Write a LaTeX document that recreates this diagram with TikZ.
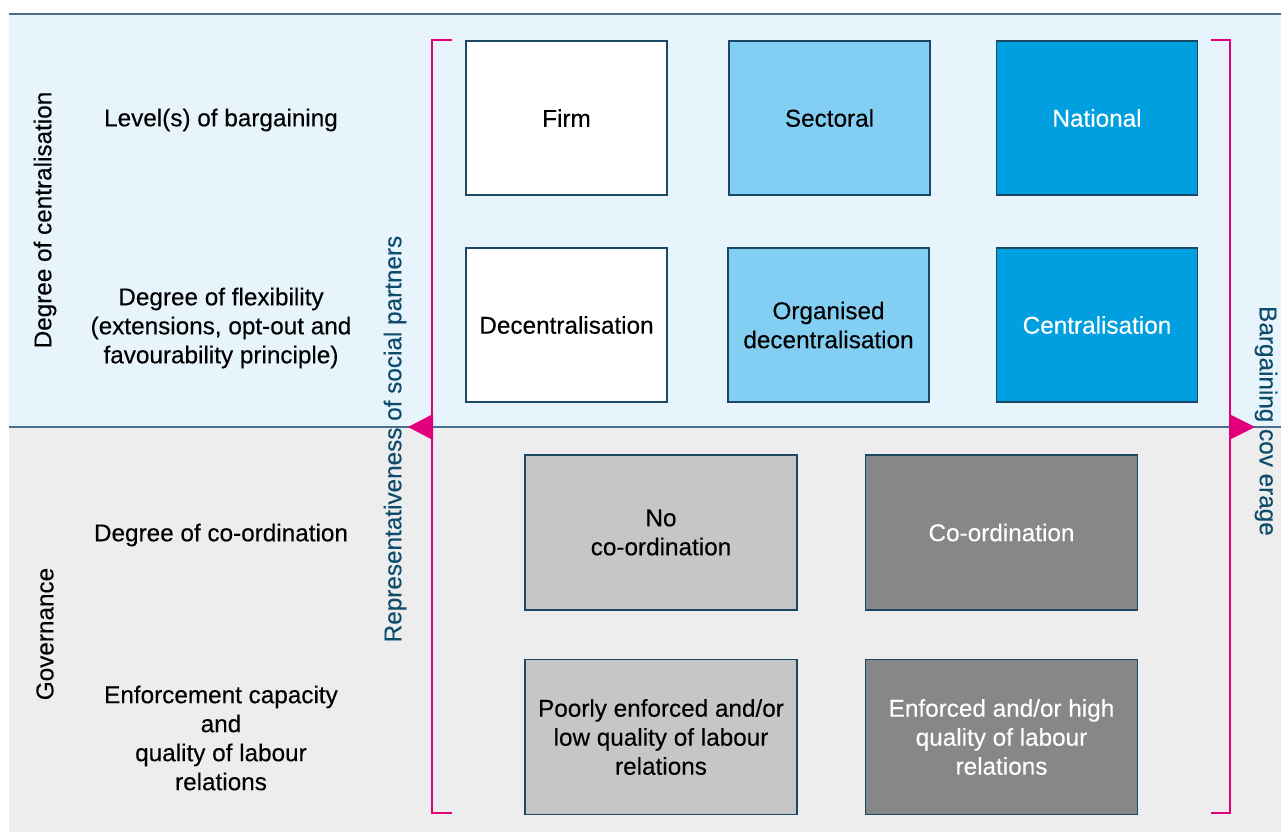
\documentclass[tikz,border=0pt]{standalone}
\usepackage{fontspec}
\setmainfont{Liberation Sans}[FakeBold=0.25]
\definecolor{topbg}{HTML}{E8F4FC}
\definecolor{botbg}{HTML}{EDEDED}
\definecolor{sect}{HTML}{82CFF3}
\definecolor{natl}{HTML}{009FE0}
\definecolor{lgray}{HTML}{C6C6C6}
\definecolor{dgray}{HTML}{878787}
\definecolor{edge}{HTML}{1B4965}
\definecolor{rule}{HTML}{4A6F8C}
\definecolor{pink}{HTML}{E2007A}
\definecolor{teal}{HTML}{0E4C6C}
\tikzset{
  box/.style={draw=edge, line width=1.3pt, minimum width=201pt, minimum height=154pt, inner sep=0pt, align=center, font=\fontsize{24.3}{29}\selectfont},
  wbox/.style={box, minimum width=272pt, minimum height=155pt},
  lab/.style={align=center, font=\fontsize{24.3}{29}\selectfont, inner sep=0pt},
  side/.style={font=\fontsize{24.3}{28}\selectfont, inner sep=0pt},
  brk/.style={draw=pink, line width=2.3pt},
}
\begin{document}
\begin{tikzpicture}[x=1pt,y=-1pt]
\useasboundingbox (0,0) rectangle (1281,832);
\fill[white] (0,0) rectangle (1281,832);
\fill[topbg] (9,14) rectangle (1281,427);
\fill[botbg] (9,427) rectangle (1281,832);
\draw[rule, line width=1.4pt] (9,14) -- (1281,14);
\draw[rule, line width=1.4pt] (9,427) -- (1281,427);

% side labels
\node[side, rotate=90] (cen) at (45,220) {Degree of centralisation};
\node[side, rotate=90] (gov) at (45,634) {Governance};

% row labels
\node[lab] (l1) at (221,120) {Level(s) of bargaining};
\node[lab] (l2) at (221,328) {Degree of flexibility\\(extensions, opt-out and\\favourability principle)};
\node[lab] (l3) at (221,535) {Degree of co-ordination};
\node[lab] (l4) at (221,738) {Enforcement capacity\\and\\quality of labour\\relations};

% boxes
\node[box, fill=white] (firm) at (566.5,118) {Firm};
\node[box, fill=sect] (sec) at (829.5,118) {Sectoral};
\node[box, fill=natl, text=white] (nat) at (1097,118) {National};
\node[box, fill=white] (dec) at (566.5,325) {Decentralisation};
\node[box, fill=sect] (org) at (828.5,325) {Organised\\decentralisation};
\node[box, fill=natl, text=white] (cent) at (1097,325) {Centralisation};
\node[wbox, fill=lgray] (noc) at (661,532.5) {No\\co-ordination};
\node[wbox, fill=dgray, text=white] (coo) at (1001.5,532.5) {Co-ordination};
\node[wbox, fill=lgray] (poor) at (661,737) {Poorly enforced and/or\\low quality of labour\\relations};
\node[wbox, fill=dgray, text=white] (enf) at (1001.5,737) {Enforced and/or high\\quality of labour\\relations};

% brackets
\draw[brk] (452,40) -- (432,40) -- (432,813) -- (452,813);
\fill[pink] (408,427) -- (433,414) -- (433,440) -- cycle;
\draw[brk] (1211,40) -- (1230,40) -- (1230,813) -- (1211,813);
\fill[pink] (1255,427) -- (1229,414) -- (1229,440) -- cycle;

\node[side, rotate=90, text=teal] (rep) at (395,439) {Representativeness of social partners};
\node[side, rotate=-90, text=teal] (cov) at (1266,421) {Bargaining cov erage};
\end{tikzpicture}
\end{document}
